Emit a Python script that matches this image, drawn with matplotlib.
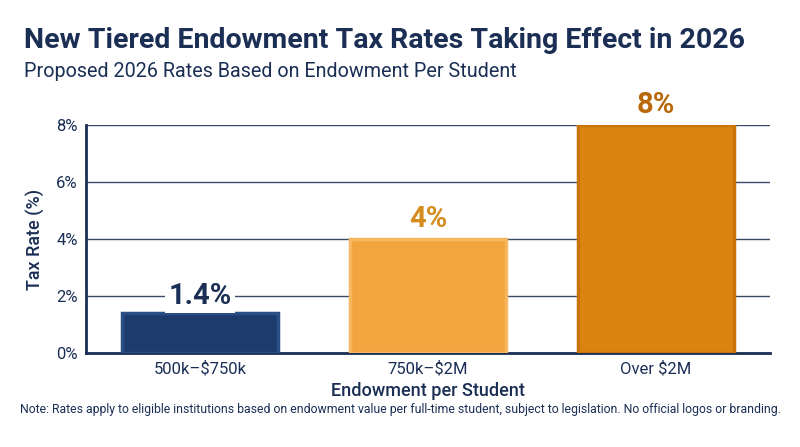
import matplotlib.pyplot as plt

categories = ["500k\u2013$750k", "750k\u2013$2M", "Over $2M"]
rates = [1.4, 4, 8]
rate_labels = ["1.4%", "4%", "8%"]
yticks = [0, 2, 4, 6, 8]

plt.rcParams['font.family'] = ['Roboto', 'DejaVu Sans']
navy = '#1b2f55'
fills = ['#1d3c6e', '#f2a43e', '#db8510']
edges = ['#2a4f85', '#f5b860', '#c9740a']
label_colors = [navy, '#d48d1e', '#b8680b']

fig = plt.figure(figsize=(8, 4.47), dpi=100)
ax = fig.add_axes([0.1075, 0.2103, 0.855, 0.5101])

x = range(len(categories))
ax.bar(x, rates, width=0.68, color=fills, edgecolor=edges, linewidth=2.5, zorder=3)
for i, (v, lab) in enumerate(zip(rates, rate_labels)):
    ypos = 2.0 if i == 0 else v + 0.7
    ax.text(i, ypos, lab, ha='center', va='center', fontsize=21, fontweight='bold',
            color=label_colors[i], zorder=4,
            bbox=dict(facecolor='white', edgecolor='none', pad=2) if i == 0 else None)

ax.set_xlim(-0.5, 2.5)
ax.set_ylim(0, 8)
ax.set_yticks(yticks)
ax.set_yticklabels([f"{t}%" for t in yticks], fontsize=12, color=navy)
ax.set_xticks(list(x))
ax.set_xticklabels(categories, fontsize=12, color=navy)
ax.tick_params(length=0, pad=6)
ax.grid(axis='y', color='#3a4a66', linewidth=1, zorder=0)
for s in ['top', 'right']:
    ax.spines[s].set_visible(False)
for s in ['left', 'bottom']:
    ax.spines[s].set_color(navy)
    ax.spines[s].set_linewidth(2)
ax.set_xlabel("Endowment per Student", fontsize=13, fontweight='medium', color=navy, labelpad=4)
ax.set_ylabel("Tax Rate (%)", fontsize=13, fontweight='medium', color=navy, labelpad=8)

fig.text(0.03, 0.91, "New Tiered Endowment Tax Rates Taking Effect in 2026",
         fontsize=20.5, fontweight='bold', color=navy, va='center')
fig.text(0.03, 0.84, "Proposed 2026 Rates Based on Endowment Per Student",
         fontsize=14.2, color=navy, va='center')
fig.text(0.5, 0.085, "Note: Rates apply to eligible institutions based on endowment value per full-time student, subject to legislation. No official logos or branding.",
         fontsize=8.8, color=navy, ha='center', va='center')

fig.savefig("out.png", dpi=100)
